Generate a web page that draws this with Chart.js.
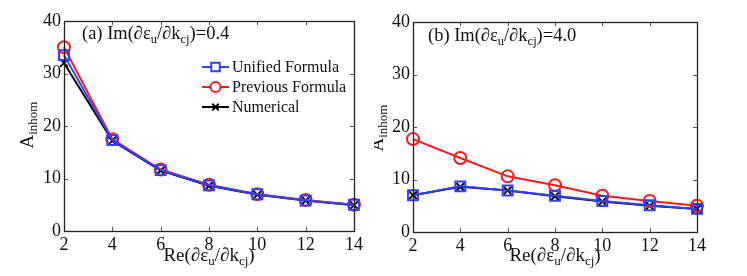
<!DOCTYPE html>
<html>
<head>
<meta charset="utf-8">
<script src="https://cdn.jsdelivr.net/npm/chart.js@4/dist/chart.umd.min.js"></script>
<style>
  body { margin: 0; background: #fff; }
  #wrap { position: relative; width: 747px; height: 276px; }
  canvas { position: absolute; top: 0; }
</style>
</head>
<body>
<div id="wrap">
  <canvas id="left" width="374" height="276" style="left:0"></canvas>
  <canvas id="right" width="373" height="276" style="left:374px"></canvas>
</div>
<script>
// x values and series
var xs = [2, 4, 6, 8, 10, 12, 14];
var xTicks = [2, 4, 6, 8, 10, 12, 14];
var yTicks = [0, 10, 20, 30, 40];

var unifiedA = [33.5, 17.3, 11.6, 8.7, 7.0, 5.8, 5.0];
var previousA = [35.0, 17.5, 11.7, 8.8, 7.0, 5.9, 5.0];
var numericalA = [32.0, 17.2, 11.5, 8.6, 6.9, 5.8, 4.9];

var unifiedB = [7.0, 8.7, 7.9, 6.9, 5.9, 5.1, 4.4];
var previousB = [17.7, 14.1, 10.6, 8.9, 6.9, 5.9, 5.0];
var numericalB = [7.0, 8.6, 7.9, 6.8, 5.8, 5.0, 4.4];

var seriesNames = ['Unified Formula', 'Previous Formula', 'Numerical'];

var SERIF = "'Liberation Serif', 'Times New Roman', serif";
var BLUE = '#3040ff', RED = '#ff1a1a', BLACK = '#000000';

function pts(ys) {
  return xs.map(function(x, i) { return { x: x, y: ys[i] }; });
}

// draw a string made of [text, isSub] parts
function richWidth(ctx, parts, size, subSize) {
  var w = 0;
  parts.forEach(function(p) {
    ctx.font = (p[1] ? subSize : size) + 'px ' + SERIF;
    w += ctx.measureText(p[0]).width;
  });
  return w;
}
function drawRich(ctx, parts, x, y, size, subSize, align) {
  var w = richWidth(ctx, parts, size, subSize);
  var cx = align === 'center' ? x - w / 2 : x;
  ctx.textAlign = 'left';
  ctx.textBaseline = 'alphabetic';
  ctx.fillStyle = '#111';
  parts.forEach(function(p) {
    ctx.font = (p[1] ? subSize : size) + 'px ' + SERIF;
    ctx.fillText(p[0], cx, y + (p[1] ? 4 : 0));
    cx += ctx.measureText(p[0]).width;
  });
}

var xTitle = [['Re(\u2202\u03b5', 0], ['u', 1], ['/\u2202k', 0], ['cj', 1], [')', 0]];
var yTitle = [['A', 0], ['inhom', 1]];

function panelTitle(letter, val) {
  return [['(' + letter + ') Im(\u2202\u03b5', 0], ['u', 1], ['/\u2202k', 0], ['cj', 1], [')=' + val, 0]];
}

var framePlugin = {
  id: 'frame',
  afterDraw: function(chart) {
    var ctx = chart.ctx, a = chart.chartArea;
    var xs_ = chart.scales.x, ys_ = chart.scales.y;
    var o = chart.options.plugins.frame;
    ctx.save();
    // inward ticks
    ctx.strokeStyle = '#555';
    ctx.lineWidth = 1;
    ctx.beginPath();
    xTicks.forEach(function(v) {
      var px = Math.round(xs_.getPixelForValue(v)) + 0.5;
      ctx.moveTo(px, a.bottom); ctx.lineTo(px, a.bottom - 4);
      ctx.moveTo(px, a.top); ctx.lineTo(px, a.top + 4);
    });
    yTicks.forEach(function(v) {
      var py = Math.round(ys_.getPixelForValue(v)) + 0.5;
      ctx.moveTo(a.left, py); ctx.lineTo(a.left + 4, py);
      ctx.moveTo(a.right, py); ctx.lineTo(a.right - 4, py);
    });
    ctx.stroke();
    // box
    ctx.strokeStyle = '#222';
    ctx.lineWidth = 1.3;
    ctx.strokeRect(Math.round(a.left) + 0.5, Math.round(a.top) + 0.5,
      Math.round(a.right - a.left), Math.round(a.bottom - a.top));

    drawRich(ctx, o.title, o.titleX, o.titleY, 18.5, 12.5, 'left');
    drawRich(ctx, xTitle, (a.left + a.right) / 2, 261, 19, 13, 'center');

    ctx.save();
    ctx.translate(o.yTitleX, o.yTitleY);
    ctx.rotate(-Math.PI / 2);
    drawRich(ctx, yTitle, 0, 0, 19, 13, 'center');
    ctx.restore();

    if (o.legend) {
      var ds = chart.data.datasets;
      ds.forEach(function(d, i) {
        var ly = 67 + i * 20;
        var lx0 = 202, lx1 = 229;
        ctx.strokeStyle = d.borderColor;
        ctx.lineWidth = 2;
        ctx.beginPath();
        ctx.moveTo(lx0, ly); ctx.lineTo(lx1, ly);
        ctx.stroke();
        ctx.fillStyle = '#ffffff';
        Chart.helpers.drawPoint(ctx, {
          pointStyle: d.pointStyle, radius: d.pointRadius - 1, borderWidth: d.pointBorderWidth
        }, (lx0 + lx1) / 2, ly);
        ctx.fillStyle = '#111';
        ctx.font = '16px ' + SERIF;
        ctx.textAlign = 'left';
        ctx.textBaseline = 'middle';
        ctx.fillText(d.label, 232, ly + 1);
      });
    }
    ctx.restore();
  }
};

function makeDatasets(u, p, n) {
  return [
    { label: seriesNames[0], data: pts(u), borderColor: BLUE, backgroundColor: 'rgba(0,0,0,0)',
      pointStyle: 'rect', pointRadius: 7, pointBorderWidth: 2, borderWidth: 2, clip: false },
    { label: seriesNames[1], data: pts(p), borderColor: RED, backgroundColor: 'rgba(0,0,0,0)',
      pointStyle: 'circle', pointRadius: 6, pointBorderWidth: 2, borderWidth: 2, clip: false },
    { label: seriesNames[2], data: pts(n), borderColor: BLACK, backgroundColor: 'rgba(0,0,0,0)',
      pointStyle: 'crossRot', pointRadius: 5.5, pointBorderWidth: 2, borderWidth: 2, clip: false }
  ];
}

function makeChart(id, datasets, cfg) {
  return new Chart(document.getElementById(id), {
    type: 'line',
    data: { datasets: datasets },
    options: {
      responsive: false,
      animation: false,
      devicePixelRatio: 1,
      layout: { padding: { left: 0, right: cfg.padRight, top: cfg.padTop, bottom: 0 } },
      elements: { line: { tension: 0 } },
      plugins: {
        legend: { display: false },
        tooltip: { enabled: false },
        frame: cfg
      },
      scales: {
        x: {
          type: 'linear', min: 2, max: 14,
          afterBuildTicks: function(s) { s.ticks = xTicks.map(function(v) { return { value: v }; }); },
          afterFit: function(s) { s.height = cfg.xHeight; },
          grid: { display: false, drawTicks: false },
          border: { display: false },
          ticks: { padding: 3, color: '#111', font: { family: SERIF, size: 18 }, maxRotation: 0 }
        },
        y: {
          min: 0, max: 40,
          afterBuildTicks: function(s) { s.ticks = yTicks.map(function(v) { return { value: v }; }); },
          afterFit: function(s) { s.width = cfg.yWidth; },
          grid: { display: false, drawTicks: false },
          border: { display: false },
          ticks: { padding: 3, color: '#111', font: { family: SERIF, size: 18 } }
        }
      }
    },
    plugins: [framePlugin]
  });
}

makeChart('left', makeDatasets(unifiedA, previousA, numericalA), {
  padRight: 20, padTop: 21, xHeight: 45, yWidth: 64,
  title: panelTitle('a', '0.4'), titleX: 82, titleY: 39,
  yTitleX: 33, yTitleY: 125, legend: true
});

makeChart('right', makeDatasets(unifiedB, previousB, numericalB), {
  padRight: 50, padTop: 22, xHeight: 44, yWidth: 39,
  title: panelTitle('b', '4.0'), titleX: 54, titleY: 41,
  yTitleX: 9, yTitleY: 128, legend: false
});
</script>
</body>
</html>
